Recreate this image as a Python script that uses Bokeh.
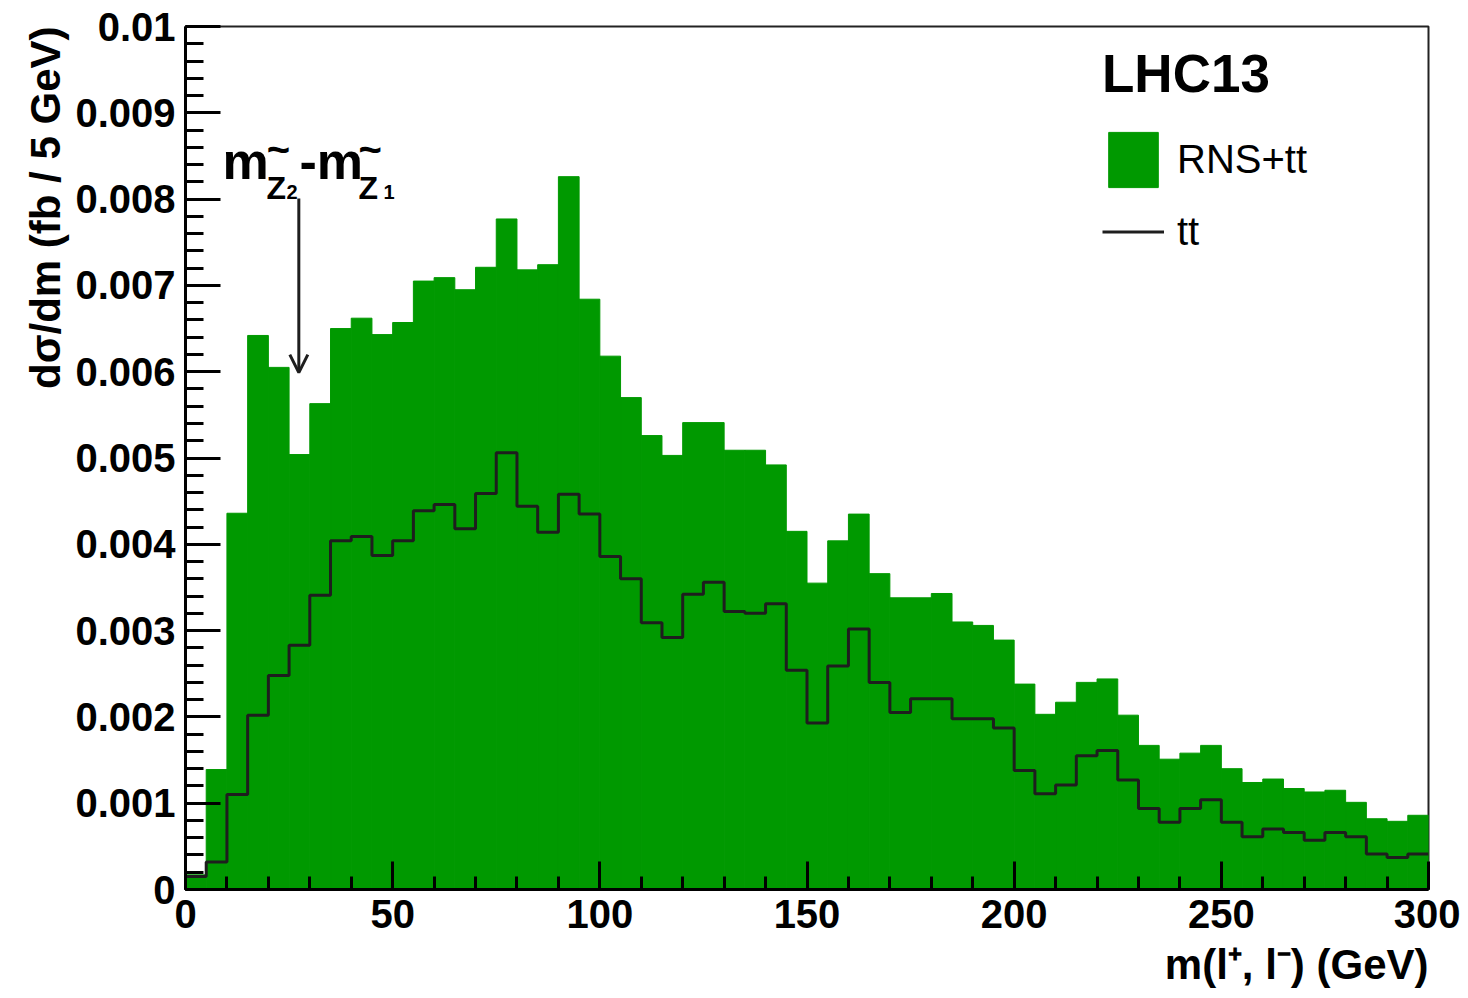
import math
from bokeh.plotting import figure
from bokeh.models import (Range1d, SingleIntervalTicker, CustomJSTickFormatter, Label,
                          Arrow, OpenHead, Legend, LegendItem, ColumnDataSource, Title)
from bokeh.embed import file_html
from bokeh.resources import INLINE

# ---------------- data ----------------
bin_width = 5.0            # GeV
x_min, x_max = 0.0, 300.0
# RNS + ttbar, in units of 1e-3 fb / 5 GeV
rns_tt_e3 = [0.17, 1.39, 4.36, 6.42, 6.05, 5.04, 5.63, 6.50, 6.62, 6.43,
             6.57, 7.05, 7.09, 6.95, 7.21, 7.77, 7.18, 7.24, 8.26, 6.84,
             6.18, 5.70, 5.26, 5.03, 5.41, 5.41, 5.09, 5.09, 4.92, 4.15,
             3.55, 4.04, 4.35, 3.66, 3.38, 3.38, 3.43, 3.10, 3.06, 2.89,
             2.38, 2.03, 2.17, 2.40, 2.44, 2.02, 1.67, 1.51, 1.58, 1.67,
             1.40, 1.24, 1.28, 1.17, 1.13, 1.15, 1.01, 0.82, 0.79, 0.86]
# ttbar only
tt_e3 = [0.15, 0.32, 1.10, 2.02, 2.48, 2.83, 3.41, 4.04, 4.09, 3.87,
         4.04, 4.39, 4.46, 4.18, 4.59, 5.06, 4.44, 4.14, 4.58, 4.35,
         3.86, 3.60, 3.09, 2.92, 3.42, 3.56, 3.22, 3.20, 3.31, 2.54,
         1.93, 2.59, 3.02, 2.40, 2.05, 2.21, 2.21, 1.98, 1.98, 1.87,
         1.38, 1.11, 1.21, 1.55, 1.61, 1.27, 0.94, 0.78, 0.94, 1.04,
         0.78, 0.61, 0.70, 0.66, 0.57, 0.66, 0.61, 0.41, 0.37, 0.41]
series_labels = ["RNS+tt", "tt"]
legend_title = "LHC13"
x_title = "m(l\u207a, l\u207b) (GeV)"
y_title = "d\u03c3/dm (fb / 5 GeV)"

# ---------------- derived ----------------
n_bins = len(rns_tt_e3)
edges = [x_min + i * bin_width for i in range(n_bins + 1)]
rns_tt = [v * 1e-3 for v in rns_tt_e3]
tt = [v * 1e-3 for v in tt_e3]

FONT = "Liberation Sans"
GREEN = "#009900"
DARK = "#1e1e1e"

p = figure(width=1460, height=998, output_backend="svg", toolbar_location=None,
           x_range=Range1d(x_min, x_max), y_range=Range1d(0, 0.0100001),
           min_border_left=185, min_border_right=32, min_border_top=26,
           min_border_bottom=109)
p.background_fill_color = "white"
p.border_fill_color = "white"
p.grid.visible = False
p.outline_line_color = "#222222"
p.outline_line_width = 2

src = ColumnDataSource(dict(left=edges[:-1], right=edges[1:], top=rns_tt))
r_sig = p.quad(left="left", right="right", bottom=0, top="top", source=src,
               fill_color=GREEN, line_color=GREEN, line_width=1)
r_tt = p.step(x=edges, y=tt + [tt[-1]], mode="after",
              line_color=DARK, line_width=3)

# axes
xa = p.xaxis[0]
xa.ticker = SingleIntervalTicker(interval=50, num_minor_ticks=5)
xa.major_tick_in = 28
xa.major_tick_out = 0
xa.minor_tick_in = 13
xa.minor_tick_out = 0
xa.major_tick_line_width = 3
xa.minor_tick_line_width = 3
xa.axis_line_width = 3
xa.major_label_text_font = FONT
xa.major_label_text_font_size = "40px"
xa.major_label_text_font_style = "bold"
xa.major_label_text_color = "black"
xa.major_label_standoff = 10

ya = p.yaxis[0]
ya.ticker = SingleIntervalTicker(interval=0.001, num_minor_ticks=5)
ya.formatter = CustomJSTickFormatter(
    code="if (Math.abs(tick) < 1e-12) { return '0'; } return String(parseFloat(tick.toFixed(4)));")
ya.major_tick_in = 35
ya.major_tick_out = 0
ya.minor_tick_in = 18
ya.minor_tick_out = 0
ya.major_tick_line_width = 3
ya.minor_tick_line_width = 3
ya.axis_line_width = 3
ya.major_label_text_font = FONT
ya.major_label_text_font_size = "40px"
ya.major_label_text_font_style = "bold"
ya.major_label_text_color = "black"
ya.major_label_standoff = 10

# axis titles (ROOT style: right aligned at the axis end)
p.add_layout(Title(text=x_title, align="right", text_font=FONT, text_font_size="42px",
                   text_font_style="bold", text_color="black", standoff=16), "below")
p.add_layout(Title(text=y_title, align="right", text_font=FONT, text_font_size="42px",
                   text_font_style="bold", text_color="black", standoff=8), "left")

# annotation m_{Z2~} - m_{Z1~}
def lab(x, y, t, size, baseline="alphabetic", align="left"):
    p.add_layout(Label(x=x, y=y, text=t, text_font=FONT, text_font_size=size,
                       text_font_style="bold", text_color="black",
                       text_align=align, text_baseline=baseline))

lab(8.93, 0.008447, "m", "52px")
lab(22.4, 0.008575, "~", "40px", baseline="middle", align="center")
lab(19.55, 0.008134, "Z", "32px")
lab(24.38, 0.008077, "2", "20px")
lab(27.5, 0.008447, "-m", "52px")
lab(44.6, 0.008575, "~", "40px", baseline="middle", align="center")
lab(41.75, 0.008134, "Z", "32px")
lab(47.8, 0.008077, "1", "20px")

p.add_layout(Arrow(end=OpenHead(size=18, line_width=3, line_color=DARK),
                   x_start=27.35, y_start=0.008007, x_end=27.35, y_end=0.00599,
                   line_width=3, line_color=DARK))

legend = Legend(items=[LegendItem(label=series_labels[0], renderers=[r_sig]),
                       LegendItem(label=series_labels[1], renderers=[r_tt])],
                title=legend_title,
                title_text_font=FONT, title_text_font_size="53px",
                title_text_font_style="bold", title_text_color="black",
                title_standoff=21,
                label_text_font=FONT, label_text_font_size="40px",
                label_text_color="black", label_standoff=13,
                glyph_width=62, glyph_height=69, spacing=3, padding=0,
                margin=0, border_line_alpha=0, background_fill_alpha=0)
p.add_layout(legend)
legend.location = (917, 623)

open("out.html", "w").write(file_html(p, INLINE))
